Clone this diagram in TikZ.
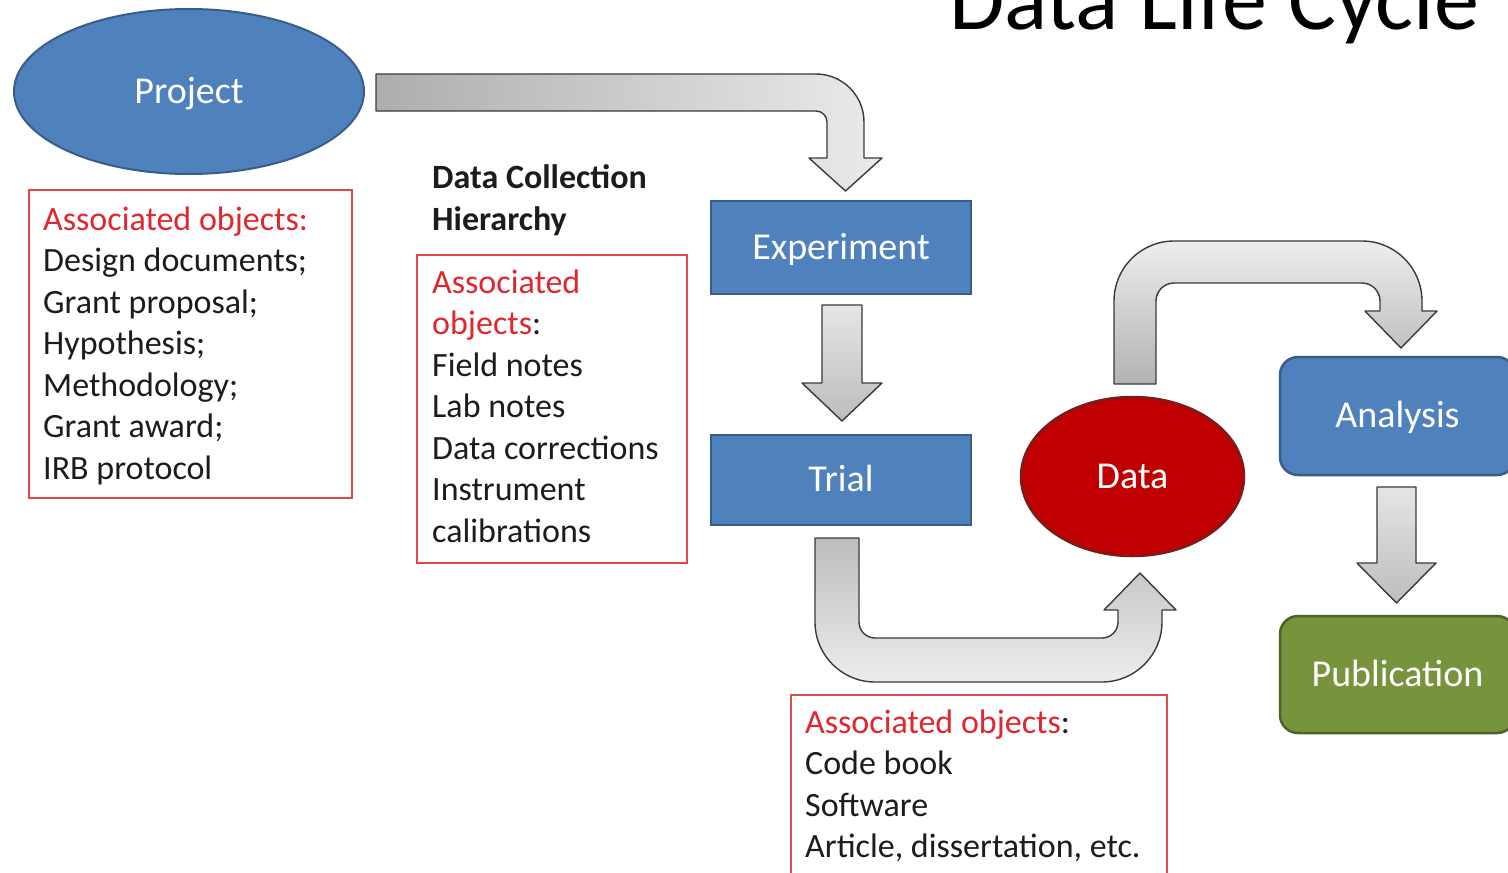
\documentclass[tikz,border=0pt]{standalone}
\usepackage{fontspec}
\setmainfont{Carlito}
\usetikzlibrary{shapes.geometric}
\definecolor{blueF}{HTML}{4F81BD}
\definecolor{blueD}{HTML}{385D8A}
\definecolor{redF}{HTML}{C00000}
\definecolor{redD}{HTML}{7A1C1C}
\definecolor{greenF}{HTML}{77933C}
\definecolor{greenD}{HTML}{4F6228}
\definecolor{boxred}{HTML}{E04848}
\definecolor{txtred}{HTML}{E0262E}
\definecolor{txtdark}{HTML}{1C1C1C}
\definecolor{arrowline}{HTML}{3A3A3A}
\newcommand{\rd}[1]{\textcolor{txtred}{#1}}
\tikzset{
  lbl/.style={text=white,font=\fontsize{38}{46}\selectfont,text height=27pt,text depth=4pt},
  bluebox/.style={lbl,draw=blueD,fill=blueF,line width=2.5pt,rectangle},
  blueround/.style={bluebox,rounded corners=18pt},
  greenround/.style={lbl,draw=greenD,fill=greenF,line width=2.5pt,rectangle,rounded corners=18pt},
  blueoval/.style={lbl,draw=blueD,fill=blueF,line width=2pt,ellipse},
  redoval/.style={lbl,draw=redD,fill=redF,line width=2.5pt,ellipse},
  redbox/.style={draw=boxred,line width=2pt,rectangle,anchor=north west},
  txt/.style={text=txtdark,font=\fontsize{34}{41.5}\selectfont,align=left,inner sep=0pt,anchor=base west},
  txtb/.style={txt,font=\fontsize{34}{42}\selectfont\bfseries},
  blockarrow/.style={draw=arrowline,line width=1.4pt,line join=round},
}
\begin{document}
\begin{tikzpicture}[x=1pt,y=-1pt]
\clip (0,0) rectangle (1508,873);
\fill[white] (0,0) rectangle (1508,873);

% title
\node[anchor=base west,inner sep=0pt,text=black,font=\fontsize{90}{100}\selectfont] (title) at (949,29) {Data Life Cycle};

% main nodes
\node[blueoval,minimum width=350pt,minimum height=165pt] (proj) at (189,91.5) {Project};
\node[bluebox,minimum width=260pt,minimum height=93pt] (exp) at (841,247.5) {Experiment};
\node[bluebox,minimum width=260pt,minimum height=90pt] (trial) at (841,480) {Trial};
\node[redoval,minimum width=223pt,minimum height=159pt] (data) at (1132.5,476.5) {Data};
\node[blueround,minimum width=235pt,minimum height=118pt] (ana) at (1397.5,416) {Analysis};
\node[greenround,minimum width=235pt,minimum height=117pt] (pub) at (1397.5,674.5) {Publication};

% associated objects boxes (text nodes anchored at the baseline of their last line)
\node[redbox,minimum width=323pt,minimum height=308pt] (objP) at (28,189) {};
\node[txt] (objPtext) at (43,479) {\rd{Associated objects:}\\Design documents;\\Grant proposal;\\Hypothesis;\\Methodology;\\Grant award;\\IRB protocol};

\node[txtb] (dch) at (432,230) {Data Collection\\Hierarchy};
\node[redbox,minimum width=270pt,minimum height=308pt] (objE) at (416,254) {};
\node[txt] (objEtext) at (432,542) {\rd{Associated}\\\rd{objects}:\\Field notes\\Lab notes\\Data corrections\\Instrument\\calibrations};

\node[redbox,minimum width=376pt,minimum height=200pt] (objD) at (790,694) {};
\node[txt] (objDtext) at (805,857.5) {\rd{Associated objects}:\\Code book\\Software\\Article, dissertation, etc.};

% block arrows
% Project -> Experiment
\shadedraw[blockarrow,left color=black!32,right color=black!8]
  (376,74) -- (816,74) .. controls (842.5,74) and (864,95.5) .. (864,122)
  -- (864,158) -- (882,158) -- (845.5,191) -- (809,158) -- (827,158)
  -- (827,122) .. controls (827,115.9) and (822.1,111) .. (816,111)
  -- (376,111) -- cycle;
% Experiment -> Trial
\shadedraw[blockarrow,top color=black!10,bottom color=black!26]
  (822,305) -- (862,305) -- (862,383) -- (882,383) -- (842,421) -- (802,383) -- (822,383) -- cycle;
% Trial -> Data
\shadedraw[blockarrow,top color=black!26,bottom color=black!7]
  (815,538) -- (815,622) .. controls (815,655.1) and (841.9,682) .. (875,682)
  -- (1102,682) .. controls (1135.1,682) and (1162,655.1) .. (1162,622)
  -- (1162,610) -- (1176,610) -- (1140,573) -- (1104,610) -- (1118,610)
  -- (1118,622) .. controls (1118,630.8) and (1110.8,638) .. (1102,638)
  -- (875,638) .. controls (866.2,638) and (859,630.8) .. (859,622)
  -- (859,538) -- cycle;
% Data -> Analysis
\shadedraw[blockarrow,top color=black!7,bottom color=black!30]
  (1114,384) -- (1114,301) .. controls (1114,267.9) and (1140.9,241) .. (1174,241)
  -- (1362,241) .. controls (1395.1,241) and (1422,267.9) .. (1422,301)
  -- (1422,311) -- (1437,311) -- (1401,348) -- (1365,311) -- (1380,311)
  -- (1380,301) .. controls (1380,291.1) and (1371.9,283) .. (1362,283)
  -- (1174,283) .. controls (1164.1,283) and (1156,291.1) .. (1156,301)
  -- (1156,384) -- cycle;
% Analysis -> Publication
\shadedraw[blockarrow,top color=black!10,bottom color=black!26]
  (1377,487) -- (1416,487) -- (1416,563) -- (1436,563) -- (1396.5,603) -- (1357,563) -- (1377,563) -- cycle;
\end{tikzpicture}
\end{document}
